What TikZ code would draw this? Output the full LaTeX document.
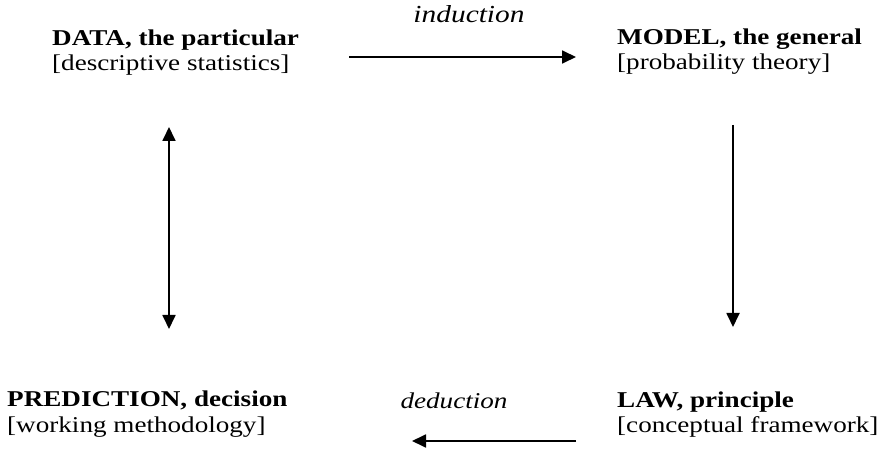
\documentclass[tikz,border=0pt]{standalone}
\usepackage{fontspec}
\setmainfont{Liberation Serif}[FakeStretch=1.2]
\usetikzlibrary{arrows.meta}
\begin{document}
\begin{tikzpicture}[x=1pt,y=-1pt,
  lbl/.style={inner sep=0pt,anchor=base west,font=\fontsize{22.6}{25}\selectfont},
  ttl/.style={lbl,font=\fontsize{22.6}{25}\selectfont\bfseries},
  itl/.style={inner sep=0pt,anchor=base,font=\fontsize{22.6}{25}\selectfont\itshape},
  arr/.style={line width=1.8pt,-{Triangle[length=14pt,width=13pt]}},
  darr/.style={line width=1.8pt,{Triangle[length=14pt,width=13pt]}-{Triangle[length=14pt,width=13pt]}}]
\useasboundingbox (0,0) rectangle (887,449);
\node[ttl] (dataT) at (52,46) {DATA, the particular};
\node[lbl] (dataS) at (52,71) {[descriptive statistics]};
\node[ttl] (modelT) at (617,45) {MODEL, the general};
\node[lbl] (modelS) at (617,70) {[probability theory]};
\node[ttl] (predT) at (7,406) {PREDICTION, decision};
\node[lbl] (predS) at (7,432) {[working methodology]};
\node[ttl] (lawT) at (617,407) {LAW, principle};
\node[lbl] (lawS) at (617,432) {[conceptual framework]};
\node[itl,font=\fontsize{24.5}{27}\selectfont\itshape] (ind) at (469,23) {induction};
\node[itl] (ded) at (454,408) {deduction};
\coordinate (a1) at (349,57);
\coordinate (a2) at (576,57);
\coordinate (b1) at (733,125);
\coordinate (b2) at (733,327);
\coordinate (c1) at (576,441);
\coordinate (c2) at (412,441);
\coordinate (d1) at (169,127);
\coordinate (d2) at (169,329);
\draw[arr] (a1) -- (a2);
\draw[arr] (b1) -- (b2);
\draw[arr] (c1) -- (c2);
\draw[darr] (d1) -- (d2);
\end{tikzpicture}
\end{document}
